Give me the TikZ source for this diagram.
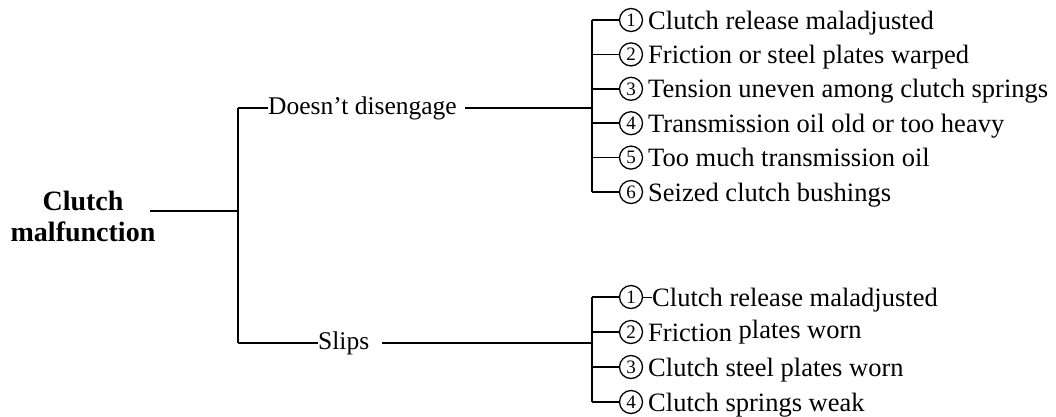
\documentclass[tikz,border=0pt]{standalone}
\usepackage{fontspec}
\setmainfont{Liberation Serif}
\usepackage{tikz}
\usetikzlibrary{positioning}

\begin{document}
\begin{tikzpicture}[x=1pt, y=-1pt,
    root/.style={align=center, font=\fontsize{28}{31}\selectfont\bfseries},
    branch/.style={inner sep=0pt, font=\fontsize{25.5}{28}\selectfont},
    num/.style={circle, draw, line width=1.3pt, inner sep=0pt, minimum size=23pt, font=\fontsize{19}{19}\selectfont},
    item/.style={anchor=base west, inner sep=0pt, font=\fontsize{26.5}{28}\selectfont},
    link/.style={line width=1.7pt}
]
\useasboundingbox (0,0) rectangle (1056,416);

% root and first fork
\node[root] (C) at (83,216) {Clutch\\malfunction};
\coordinate (J)  at (238,211);
\coordinate (Jd) at (238,108);
\coordinate (Js) at (238,343);
\node[branch, anchor=west] (D) at (268,108) {Doesn't disengage};
\node[branch, anchor=west] (S) at (318,343) {Slips};

\draw[link] ([xshift=-9pt]C.east |- J) -- (J);
\draw[link] (Jd) -- (Js);
\draw[link] (Jd) -- (D.west);
\draw[link] (Js) -- (S.west);

% doesn't disengage
\coordinate (Bd) at (592,108);
\coordinate (t1) at (592,20);
\coordinate (t2) at (592,54.4);
\coordinate (t3) at (592,88.8);
\coordinate (t4) at (592,123.2);
\coordinate (t5) at (592,157.6);
\coordinate (t6) at (592,192);
\node[num] (n1) at (631,20)    {1};
\node[num] (n2) at (631,54.4)  {2};
\node[num] (n3) at (631,88.8)  {3};
\node[num] (n4) at (631,123.2) {4};
\node[num] (n5) at (631,157.6) {5};
\node[num] (n6) at (631,192)   {6};
\node[item] (d1) at (648,29)    {Clutch release maladjusted};
\node[item] (d2) at (648,63.4)  {Friction or steel plates warped};
\node[item] (d3) at (648,97.8)  {Tension uneven among clutch springs};
\node[item] (d4) at (648,132.2) {Transmission oil old or too heavy};
\node[item] (d5) at (648,166.6) {Too much transmission oil};
\node[item] (d6) at (648,201)   {Seized clutch bushings};

\draw[link] ([xshift=8pt]D.east) -- (Bd);
\draw[link] (t1) -- (t6);
\draw[link] (t1) -- (n1.west);
\draw[link] (t2) -- (n2.west);
\draw[link] (t3) -- (n3.west);
\draw[link] (t4) -- (n4.west);
\draw[link] (t5) -- (n5.west);
\draw[link] (t6) -- (n6.west);

% slips
\coordinate (Bs) at (592,343);
\coordinate (s1) at (592,297);
\coordinate (s2) at (592,332);
\coordinate (s3) at (592,367);
\coordinate (s4) at (592,402);
\node[num] (m1) at (631,297) {1};
\node[num] (m2) at (631,332) {2};
\node[num] (m3) at (631,367) {3};
\node[num] (m4) at (631,402) {4};
\node[item] (k1) at (652,306) {Clutch release maladjusted};
\node[item] (k2) at (648,341) {Friction \raisebox{3pt}{plates worn}};
\node[item] (k3) at (648,376) {Clutch steel plates worn};
\node[item] (k4) at (648,411) {Clutch springs weak};

\draw[link] ([xshift=13pt]S.east) -- (Bs);
\draw[link] (s1) -- (s4);
\draw[link] (s1) -- (m1.west);
\draw[link] (s2) -- (m2.west);
\draw[link] (s3) -- (m3.west);
\draw[link] (s4) -- (m4.west);
\draw[line width=1pt] (m1.east) -- (m1.east -| k1.west);
\end{tikzpicture}
\end{document}
